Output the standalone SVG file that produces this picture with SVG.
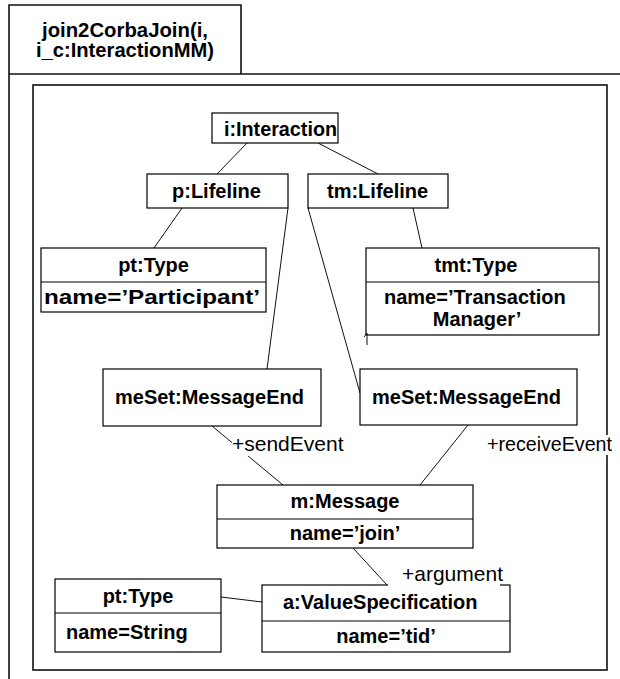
<svg xmlns="http://www.w3.org/2000/svg" width="620" height="679" viewBox="0 0 620 679">
<style>
.bx{fill:#fff;stroke:#000;stroke-width:1.2}
.dv{stroke:#000;stroke-width:1.2}
.fr{fill:none;stroke:#111;stroke-width:1.6}
.cn{stroke:#111;stroke-width:1;fill:none}
.b{font-family:"Liberation Sans",Arial,sans-serif;font-weight:bold;font-size:20px;fill:#000}
.m{text-anchor:middle}
.t{font-family:"Liberation Sans",Arial,sans-serif;font-weight:bold;font-size:20px;fill:#000}
.l{font-family:"Liberation Sans",Arial,sans-serif;font-size:21px;fill:#000}
.bg{fill:#fff}
</style>
<rect width="620" height="679" fill="#fff"/>
<g id="frame">
<path class="fr" d="M9,679 V5 H241 V74"/>
<line class="fr" x1="9" y1="74" x2="620" y2="74"/>
<text class="t" x="42" y="37" textLength="166" lengthAdjust="spacingAndGlyphs">join2CorbaJoin(i,</text>
<text class="t" x="36" y="57" textLength="178" lengthAdjust="spacingAndGlyphs">i_c:InteractionMM)</text>
<rect class="fr" x="33" y="85" width="574" height="585"/>
</g>
<g id="connectors">
<line class="cn" x1="247" y1="143" x2="217" y2="174"/>
<line class="cn" x1="318" y1="143" x2="378" y2="174"/>
<line class="cn" x1="182" y1="208" x2="154" y2="248"/>
<line class="cn" x1="413" y1="208" x2="422" y2="248"/>
<line class="cn" x1="288" y1="208" x2="267" y2="369"/>
<line class="cn" x1="308" y1="208" x2="360" y2="393"/>
<line class="cn" x1="212" y1="426" x2="283" y2="485"/>
<line class="cn" x1="468" y1="425" x2="420" y2="485"/>
<line class="cn" x1="353" y1="548" x2="387" y2="585"/>
<line class="cn" x1="221" y1="597" x2="262" y2="602"/>
</g>
<g id="i_Interaction">
<rect class="bx" x="212" y="113" width="126" height="30"/>
<text class="b" x="224" y="136" textLength="113" lengthAdjust="spacingAndGlyphs">i:Interaction</text>
</g>
<g id="p_Lifeline">
<rect class="bx" x="147" y="174" width="141" height="34"/>
<text class="b" x="172" y="198">p:Lifeline</text>
</g>
<g id="tm_Lifeline">
<rect class="bx" x="308" y="174" width="140" height="34"/>
<text class="b" x="327" y="198">tm:Lifeline</text>
</g>
<g id="pt_Type_participant">
<rect class="bx" x="41" y="248" width="225" height="64"/>
<line class="dv" x1="41" y1="282" x2="266" y2="282"/>
<text class="b m" x="153.5" y="272">pt:Type</text>
<text class="b" x="44" y="304" textLength="216" lengthAdjust="spacingAndGlyphs">name=’Participant’</text>
</g>
<g id="tmt_Type">
<rect class="bx" x="366" y="248" width="233" height="87"/>
<line class="dv" x1="366" y1="282" x2="599" y2="282"/>
<text class="b m" x="476" y="272">tmt:Type</text>
<text class="b" x="384" y="304">name=’Transaction</text>
<text class="b m" x="477" y="326">Manager’</text>
<path class="cn" d="M364,337 L367,333 V345" stroke-width="1.5"/>
</g>
<g id="meSet_send">
<rect class="bx" x="103" y="369" width="218" height="57"/>
<text class="b" x="115" y="404">meSet:MessageEnd</text>
</g>
<g id="meSet_receive">
<rect class="bx" x="360" y="369" width="217" height="56"/>
<text class="b" x="372" y="404">meSet:MessageEnd</text>
</g>
<g id="m_Message">
<rect class="bx" x="217" y="485" width="256" height="63"/>
<line class="dv" x1="217" y1="519" x2="473" y2="519"/>
<text class="b m" x="345" y="508">m:Message</text>
<text class="b m" x="345" y="540">name=’join’</text>
</g>
<g id="pt_Type_string">
<rect class="bx" x="55" y="579" width="166" height="73"/>
<line class="dv" x1="55" y1="613" x2="221" y2="613"/>
<text class="b m" x="138" y="603">pt:Type</text>
<text class="b" x="66" y="639">name=String</text>
</g>
<g id="a_ValueSpecification">
<rect class="bx" x="262" y="585" width="248" height="67"/>
<line class="dv" x1="262" y1="621" x2="510" y2="621"/>
<text class="b" x="283" y="609">a:ValueSpecification</text>
<text class="b m" x="386" y="643">name=’tid’</text>
</g>
<g id="labels">
<rect class="bg" x="232" y="434" width="114" height="22"/>
<text class="l" x="232" y="451">+sendEvent</text>
<rect class="bg" x="487" y="435" width="133" height="20"/>
<text class="l" x="487" y="451" textLength="125" lengthAdjust="spacingAndGlyphs">+receiveEvent</text>
<rect class="bg" x="388" y="565" width="112" height="21"/>
<text class="l" x="402" y="581">+argument</text>
</g>
</svg>
